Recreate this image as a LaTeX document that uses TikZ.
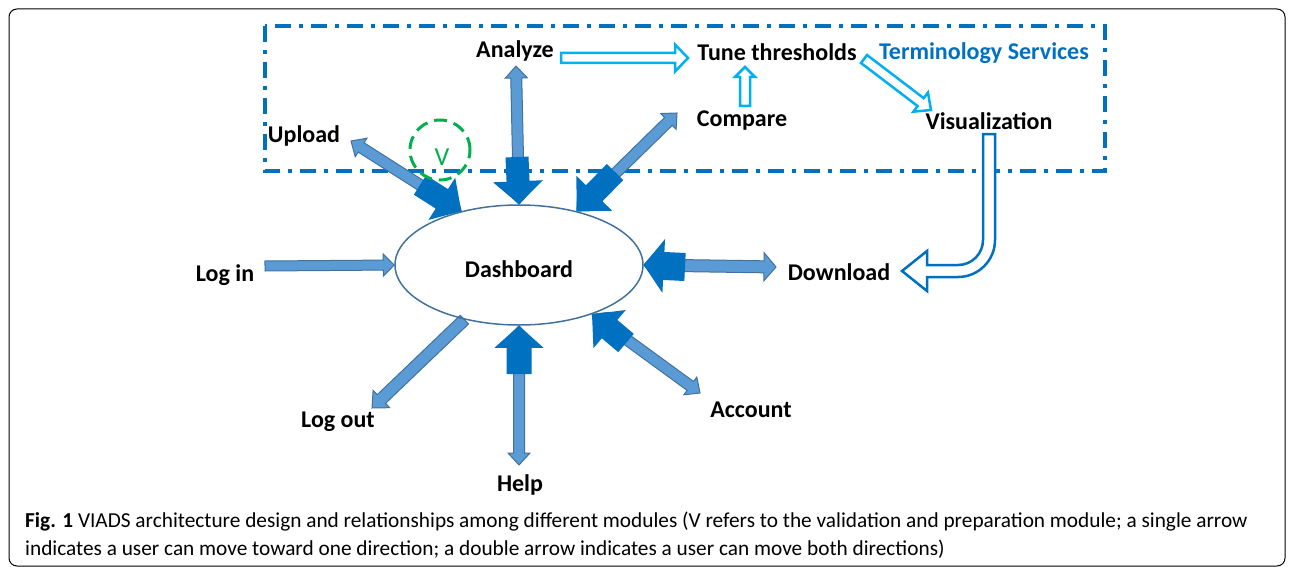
\documentclass[tikz,border=0pt]{standalone}
\usepackage{fontspec}
\setmainfont{Carlito}
\usetikzlibrary{shapes.geometric,calc,backgrounds}

\definecolor{shaftblue}{HTML}{5B9BD5}
\definecolor{edgeblue}{HTML}{41719C}
\definecolor{deepblue}{HTML}{0070C0}
\definecolor{skyblue}{HTML}{00B0F0}
\definecolor{validgreen}{HTML}{00B050}

\tikzset{
  module/.style={font=\bfseries\fontsize{24}{28}\selectfont, inner sep=0pt},
  twoway/.style={fill=shaftblue, draw=edgeblue, line width=1pt},
  pushin/.style={fill=deepblue, draw=none},
  hollow/.style={fill=white, draw=skyblue, line width=2.5pt},
  caption/.style={font=\fontsize{21.3}{28}\selectfont, inner sep=0pt, anchor=base west},
}

% block arrow: [style]{from}{to}{half shaft}{half head}{head length}
\newcommand{\blockarrow}[6][]{%
  \coordinate (hb) at ($(#3)!#6pt!(#2)$);
  \filldraw[#1] ($(#2)!#4pt!90:(#3)$) -- ($(hb)!#4pt!-90:(#2)$)
    -- ($(hb)!#5pt!-90:(#2)$) -- (#3) -- ($(hb)!#5pt!90:(#2)$)
    -- ($(hb)!#4pt!90:(#2)$) -- ($(#2)!#4pt!-90:(#3)$) -- cycle;
}
% same with a head on both ends
\newcommand{\dblarrow}[6][]{%
  \coordinate (ha) at ($(#2)!#6pt!(#3)$);
  \coordinate (hb) at ($(#3)!#6pt!(#2)$);
  \filldraw[#1] (#2) -- ($(ha)!#5pt!90:(#3)$) -- ($(ha)!#4pt!90:(#3)$)
    -- ($(hb)!#4pt!-90:(#2)$) -- ($(hb)!#5pt!-90:(#2)$) -- (#3)
    -- ($(hb)!#5pt!90:(#2)$) -- ($(hb)!#4pt!90:(#2)$)
    -- ($(ha)!#4pt!-90:(#3)$) -- ($(ha)!#5pt!-90:(#3)$) -- cycle;
}

\begin{document}
\begin{tikzpicture}[x=1pt, y=1pt]
    \useasboundingbox (0,0) rectangle (1292,-567);
    % frame
    \draw [line width=1pt, rounded corners=8pt] (9,-9) rectangle (1285,-566);

    % modules
    \node [ellipse, draw=edgeblue, line width=1.5pt, minimum width=248pt,
           minimum height=120pt, module] (dash) at (519,-265)
          {\raisebox{-4pt}[\height][\depth]{Dashboard}};
    \node [module] (analyze) at (515,-51) {Analyze};
    \node [module] (tune) at (777,-52) {Tune thresholds};
    \node [module, deepblue] (termsvc) at (984,-53) {Terminology Services};
    \node [module] (compare) at (742,-121) {Compare};
    \node [module] (visual) at (989,-121) {Visualization};
    \node [module] (upload) at (304,-136) {Upload};
    \node [module] (login) at (225,-275) {Log in};
    \node [module] (download) at (839,-272) {Download};
    \node [module] (logout) at (338,-422) {Log out};
    \node [module] (help) at (520,-485) {Help};
    \node [module] (account) at (751,-410) {Account};

    % arrow ends
    \coordinate (an-tip) at (516,-66);
    \coordinate (an-push) at (517,-157);
    \coordinate (up-tip) at (351,-141);
    \coordinate (up-push) at (420,-185);
    \coordinate (cp-tip) at (677,-113);
    \coordinate (cp-push) at (615,-172);
    \coordinate (dl-tip) at (776,-267);
    \coordinate (dl-push) at (685,-267);
    \coordinate (hp-tip) at (519,-465);
    \coordinate (hp-push) at (519,-374);
    \coordinate (ac-tip) at (700,-393);
    \coordinate (ac-push) at (626,-343);
    \coordinate (lo-tip) at (372,-408);
    \coordinate (li-tail) at (265,-266);

    \begin{pgfonlayer}{background}
    % terminology services box
    \draw [deepblue, line width=3.5pt, dash pattern=on 16pt off 8pt on 4pt off 8pt]
        (265,-26) rectangle (1105,-171);

    % links to the dashboard
    \dblarrow[twoway]{an-tip}{dash.north}{5.5}{11}{12}
    \dblarrow[twoway]{up-tip}{dash.137}{5.5}{11}{12}
    \dblarrow[twoway]{cp-tip}{dash.43}{5.5}{11}{12}
    \dblarrow[twoway]{dash.east}{dl-tip}{6}{14}{12}
    \dblarrow[twoway]{dash.south}{hp-tip}{5.5}{11}{12}
    \dblarrow[twoway]{dash.-34}{ac-tip}{5.5}{11}{12}
    \blockarrow[twoway]{dash.-135}{lo-tip}{6}{12}{13}
    \blockarrow[twoway]{li-tail}{dash.west}{5}{11}{11}

    % entries into the dashboard
    \blockarrow[pushin]{an-push}{dash.north}{11.5}{25}{23}
    \blockarrow[pushin]{up-push}{dash.137}{11.5}{25}{23}
    \blockarrow[pushin]{cp-push}{dash.43}{11.5}{25}{25}
    \blockarrow[pushin]{dl-push}{dash.east}{14}{27}{20}
    \blockarrow[pushin]{hp-push}{dash.south}{12.5}{24.5}{22}
    \blockarrow[pushin]{ac-push}{dash.-34}{12}{25}{23}
    \end{pgfonlayer}

    % flow inside terminology services
    \coordinate (at-tail) at (561,-58);
    \coordinate (at-tip) at (688,-58);
    \coordinate (ct-tail) at (745,-106);
    \coordinate (ct-tip) at (745,-67);
    \coordinate (tv-tail) at (864,-59);
    \coordinate (tv-tip) at (931,-110);
    \blockarrow[hollow]{at-tail}{at-tip}{5}{13.5}{13}
    \blockarrow[hollow]{ct-tail}{ct-tip}{5}{10}{10}
    \blockarrow[hollow]{tv-tail}{tv-tip}{5}{12}{13}

    % visualization to download
    \draw [deepblue, line width=2.5pt, fill=white, line join=miter]
        (983,-134) -- (995,-134) -- (995,-240)
        arc [start angle=0, end angle=-90, radius=37]
        -- (927,-277) -- (927,-291) -- (902,-271) -- (927,-251) -- (927,-265)
        -- (958,-265) arc [start angle=-90, end angle=0, radius=25] -- cycle;

    % validation module
    \coordinate (vc) at (440,-150);
    \draw [validgreen, line width=3pt, dash pattern=on 13pt off 7pt] (vc) circle [radius=30];
    \node [validgreen, font=\fontsize{26}{30}\selectfont, inner sep=0pt] (vlabel) at (442,-157) {V};

    % caption
    \node [caption] (cap1) at (25,-527) {\textbf{Fig. 1} VIADS architecture design and relationships among different modules (V refers to the validation and preparation module; a single arrow};
    \node [caption] (cap2) at (25,-555) {indicates a user can move toward one direction; a double arrow indicates a user can move both directions)};
\end{tikzpicture}
\end{document}
